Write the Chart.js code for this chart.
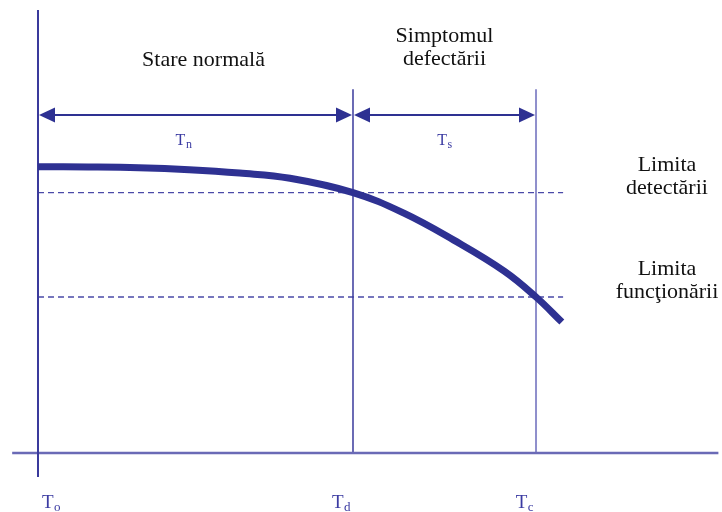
<!DOCTYPE html>
<html>
<head>
<meta charset="utf-8">
<script src="https://cdn.jsdelivr.net/npm/chart.js@4/dist/chart.umd.min.js"></script>
<style>
  html, body { margin: 0; padding: 0; background: #ffffff; }
  #wrap { width: 722px; height: 512px; }
</style>
</head>
<body>
<div id="wrap"><canvas id="chart" width="722" height="512"></canvas></div>
<script>
// Degradation curve of the monitored parameter over time
const curveTimes  = [0, 16, 32, 48, 64, 80, 100, 116, 132, 148, 158.1, 166.3];
const curveValues = [99.9, 99.85, 99.6, 98.9, 97.7, 95.9, 90.9, 83.8, 74.3, 63.5, 54.45, 45.7];

// Characteristic moments on the time axis: T0 (start), Td (detection), Tc (failure)
const markerSubs  = ['o', 'd', 'c'];
const markerTimes = [0, 100, 158.1];

// Threshold levels
const limitLabels = [['Limita', 'detectării'], ['Limita', 'funcţionării']];
const limitValues = [90.9, 54.45];
const limitEnd    = 166.7;

// Phase intervals between the characteristic moments
const phaseTitles = [['Stare normală'], ['Simptomul', 'defectării']];
const phaseSubs   = ['n', 's'];
const phaseLevel  = 118;

// Axis extents
const timeAxisRange  = [-8.2, 216];
const valueAxisRange = [-8.4, 154.6];
const markerLineTop  = 127;

const ink = '#2e3192';
const serif = '"Liberation Serif", "Times New Roman", serif';

const pts = (xs, ys) => xs.map((x, i) => ({ x, y: ys[i] }));
const seg = (x0, y0, x1, y1) => [{ x: x0, y: y0 }, { x: x1, y: y1 }];

const datasets = [
  {
    label: 'parametru',
    data: pts(curveTimes, curveValues),
    borderColor: ink, borderWidth: 7, pointRadius: 0,
    tension: 0.4, borderCapStyle: 'butt'
  },
  {
    label: 'axa valorilor',
    data: seg(0, valueAxisRange[0], 0, valueAxisRange[1]),
    borderColor: '#3a3a9c', borderWidth: 2, pointRadius: 0
  },
  {
    label: 'axa timpului',
    data: seg(timeAxisRange[0], 0, timeAxisRange[1], 0),
    borderColor: '#6a6ab6', borderWidth: 2.5, pointRadius: 0
  },
  {
    label: 'Td',
    data: seg(markerTimes[1], 0, markerTimes[1], markerLineTop),
    borderColor: '#3a3a9c', borderWidth: 1.5, pointRadius: 0
  },
  {
    label: 'Tc',
    data: seg(markerTimes[2], 0, markerTimes[2], markerLineTop),
    borderColor: '#8f8fcc', borderWidth: 2, pointRadius: 0
  }
];
limitValues.forEach((v, i) => {
  datasets.push({
    label: limitLabels[i].join(' '),
    data: seg(0, v, limitEnd, v),
    borderColor: '#4a4aa8', borderWidth: 1.3, borderDash: [6, 4], pointRadius: 0
  });
});

function drawSubscripted(ctx, base, sub, x, y, baseSize, subSize, align) {
  ctx.font = baseSize + 'px ' + serif;
  const wb = ctx.measureText(base).width;
  ctx.font = subSize + 'px ' + serif;
  const ws = ctx.measureText(sub).width;
  let left = x;
  if (align === 'center') left = x - (wb + ws) / 2;
  else if (align === 'right') left = x - (wb + ws);
  ctx.textAlign = 'left';
  ctx.font = baseSize + 'px ' + serif;
  ctx.fillText(base, left, y);
  ctx.font = subSize + 'px ' + serif;
  ctx.fillText(sub, left + wb + 0.5, y + 3);
}

function arrowHead(ctx, tipX, y, dir) {
  const len = 16, half = 7.5;
  ctx.beginPath();
  ctx.moveTo(tipX, y);
  ctx.lineTo(tipX - dir * len, y - half);
  ctx.lineTo(tipX - dir * len, y + half);
  ctx.closePath();
  ctx.fill();
}

const annotations = {
  id: 'annotations',
  afterDatasetsDraw(chart) {
    const ctx = chart.ctx;
    const xs = chart.scales.x, ys = chart.scales.y;
    ctx.save();

    // Phase arrows with their labels
    const ay = ys.getPixelForValue(phaseLevel);
    ctx.strokeStyle = ink; ctx.fillStyle = ink; ctx.lineWidth = 2;
    for (let i = 0; i < 2; i++) {
      const x0 = xs.getPixelForValue(markerTimes[i]) + 1;
      const x1 = xs.getPixelForValue(markerTimes[i + 1]) - 1;
      ctx.beginPath();
      ctx.moveTo(x0 + 10, ay); ctx.lineTo(x1 - 10, ay); ctx.stroke();
      arrowHead(ctx, x0, ay, -1);
      arrowHead(ctx, x1, ay, 1);

      const mid = (x0 + x1) / 2 + (i === 0 ? -12 : 0);
      ctx.fillStyle = '#3b3ba2';
      drawSubscripted(ctx, 'T', phaseSubs[i], mid, ay + 30, 16, 12, 'center');
      ctx.fillStyle = ink;
    }

    // Phase titles above the arrows
    ctx.fillStyle = '#111111';
    ctx.textAlign = 'center';
    ctx.font = '22px ' + serif;
    phaseTitles.forEach((lines, i) => {
      const x0 = xs.getPixelForValue(markerTimes[i]);
      const x1 = xs.getPixelForValue(markerTimes[i + 1]);
      const mid = (x0 + x1) / 2 + (i === 0 ? 8 : 0);
      const baseY = i === 0 ? ay - 49 : ay - 73;
      lines.forEach((t, k) => ctx.fillText(t, mid, baseY + k * 23));
    });

    // Threshold labels on the right
    limitLabels.forEach((lines, i) => {
      const y = ys.getPixelForValue(limitValues[i]);
      lines.forEach((t, k) => ctx.fillText(t, 667, y - 22 + k * 23));
    });

    // Time marker labels under the time axis
    ctx.fillStyle = '#3b3ba2';
    const ly = ys.getPixelForValue(0) + 55;
    markerTimes.forEach((t, i) => {
      const px = xs.getPixelForValue(t);
      if (i === 0) drawSubscripted(ctx, 'T', markerSubs[i], px + 4, ly, 19, 13, 'left');
      else drawSubscripted(ctx, 'T', markerSubs[i], px - 3, ly, 19, 13, 'right');
    });

    ctx.restore();
  }
};

new Chart(document.getElementById('chart'), {
  type: 'line',
  data: { datasets },
  options: {
    responsive: false,
    animation: false,
    layout: { padding: 0 },
    plugins: { legend: { display: false }, tooltip: { enabled: false } },
    scales: {
      x: { type: 'linear', display: false, min: -12.063, max: 217.143 },
      y: { type: 'linear', display: false, min: -20.593, max: 158.115 }
    }
  },
  plugins: [annotations]
});
</script>
</body>
</html>
